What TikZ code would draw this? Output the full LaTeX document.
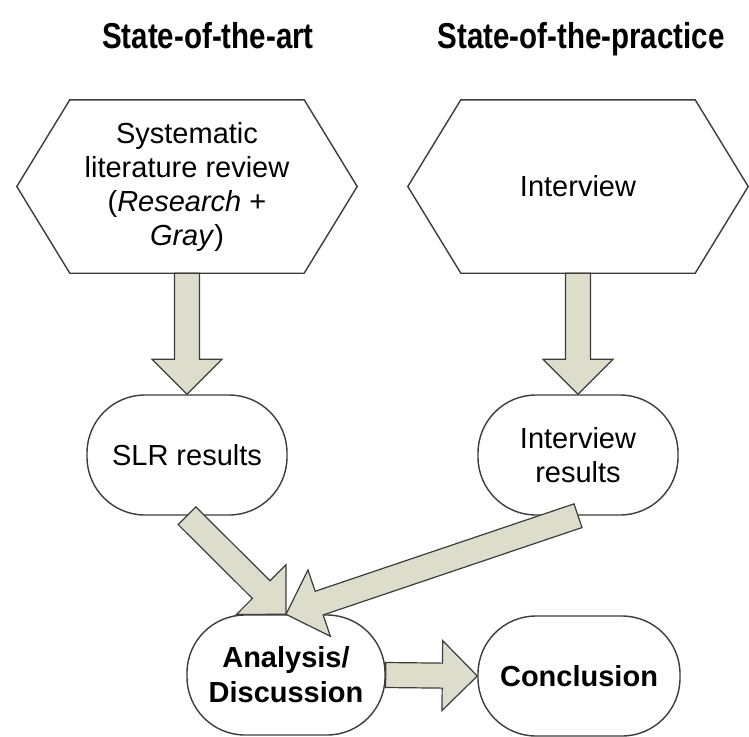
\documentclass[tikz,border=0pt]{standalone}
\usepackage{fontspec}
\setmainfont{Liberation Sans}
\newfontfamily\titlefont[FakeStretch=0.82]{Liberation Sans}
\usetikzlibrary{calc}
\definecolor{arrfill}{HTML}{DCDDCB}
\definecolor{edge}{HTML}{3C3C3C}
\tikzset{
 bodytext/.style={font=\fontsize{29}{34}\selectfont, text=black, align=center},
 hexbox/.style={bodytext, minimum width=234pt, minimum height=173pt, inner sep=0pt},
 roundbox/.style={bodytext, draw=edge, line width=1.4pt, rounded corners=58pt, minimum width=200pt, minimum height=120pt, inner sep=0pt},
 titletext/.style={font=\titlefont\bfseries\fontsize{36}{40}\selectfont, anchor=base},
 blockarr/.style={draw=edge, line width=1.2pt, fill=arrfill, line join=miter},
 hexline/.style={draw=edge, line width=1.4pt}
}
\newcommand\blockarrow[2]{%
 \path (#1) coordinate (ba-a) (#2) coordinate (ba-b);
 \path ($(ba-b)!35pt!(ba-a)$) coordinate (ba-h);
 \draw[blockarr] ($(ba-a)!12.5pt!90:(ba-b)$) -- ($(ba-h)!12.5pt!90:(ba-b)$) -- ($(ba-h)!35pt!90:(ba-b)$) -- (ba-b) -- ($(ba-h)!35pt!-90:(ba-b)$) -- ($(ba-h)!12.5pt!-90:(ba-b)$) -- ($(ba-a)!12.5pt!-90:(ba-b)$) -- cycle;
}
\newcommand\hexframe[1]{%
 \draw[hexline] (#1.north west) -- (#1.north east) -- ($(#1.east)+(53,0)$) -- (#1.south east) -- (#1.south west) -- ($(#1.west)+(-53,0)$) -- cycle;
}
\begin{document}
\begin{tikzpicture}[x=1pt,y=-1pt]
\useasboundingbox[fill=white] (0,0) rectangle (749,736);

\node[titletext] (t1) at (208,48) {State-of-the-art};
\node[titletext] (t2) at (581,48) {State-of-the-practice};

\node[hexbox] (slr-hex) at (187,186.5) {Systematic\\literature review\\(\textit{Research} +\\\textit{Gray})};
\hexframe{slr-hex}
\node[hexbox] (int-hex) at (578,186.5) {Interview};
\hexframe{int-hex}

\node[roundbox] (slr) at (187,455) {SLR results};
\node[roundbox] (intres) at (578,455) {Interview\\results};
\node[roundbox, minimum width=198pt, font=\fontsize{29}{35}\selectfont\bfseries] (ana) at (286,675) {Analysis/\\Discussion};
\node[roundbox, minimum width=202pt, font=\fontsize{29}{35}\selectfont\bfseries] (conc) at (579,676) {Conclusion};

\blockarrow{slr-hex.south}{slr.north}
\blockarrow{int-hex.south}{intres.north}
\blockarrow{slr.south}{ana.north}
\blockarrow{intres.south}{ana.north}
\blockarrow{ana.east}{conc.west}
\end{tikzpicture}
\end{document}
